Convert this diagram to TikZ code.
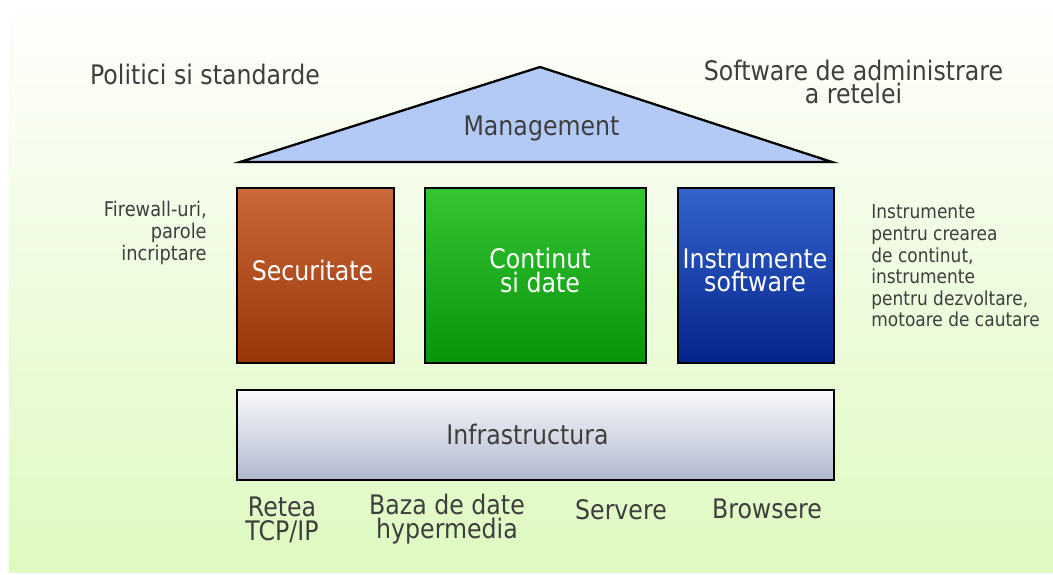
\documentclass[tikz,border=0pt]{standalone}
\usepackage{fontspec}
\setmainfont{DejaVu Sans}[FakeStretch=0.88]
\usepackage{xcolor}
\usepackage{tikz}
\definecolor{bgtop}{RGB}{254,254,252}
\definecolor{bgbot}{RGB}{222,250,192}
\definecolor{roof}{RGB}{180,202,246}
\definecolor{txtgray}{RGB}{62,62,62}
\definecolor{sectop}{RGB}{202,104,58}
\definecolor{secbot}{RGB}{152,54,8}
\definecolor{conttop}{RGB}{52,196,52}
\definecolor{contbot}{RGB}{8,150,8}
\definecolor{insttop}{RGB}{52,100,204}
\definecolor{instbot}{RGB}{4,36,140}
\definecolor{infratop}{RGB}{250,250,252}
\definecolor{infrabot}{RGB}{176,184,206}

\begin{document}
\begin{tikzpicture}[transform shape,scale=1,
	pillar/.style={draw=black,line width=1.1pt,rectangle,inner sep=0pt,minimum height=3.5cm},
	bigtxt/.style={text=txtgray,align=center,inner sep=0pt,font=\fontsize{15.3}{13.4}\selectfont},
	smalltxt/.style={text=txtgray,inner sep=0pt,font=\fontsize{11}{12.3}\selectfont}]
		\useasboundingbox (0,0) rectangle (21.06,11.48);
		\shade[top color=bgtop,bottom color=bgbot] (0.18,0.04) rectangle (21.06,11.2);
		% roof
		\coordinate (roofL) at (4.8,8.24);
		\coordinate (roofT) at (10.8,10.14);
		\coordinate (roofR) at (16.64,8.24);
		\filldraw[fill=roof,draw=black,line width=1.3pt,line join=miter] (roofL) -- (roofT) -- (roofR) -- cycle;
		\node[bigtxt] (mgmt) at (10.83,8.92) {Management};
		\node[bigtxt] (pol) at (4.1,9.99) {Politici si standarde};
		\node[bigtxt] (softadm) at (17.07,9.84) {Software de administrare\\a retelei};
		% pillars
		\node[pillar,minimum width=3.14cm,top color=sectop,bottom color=secbot] (sec) at (6.31,5.97) {};
		\node[pillar,minimum width=4.42cm,top color=conttop,bottom color=contbot] (cont) at (10.71,5.97) {};
		\node[pillar,minimum width=3.12cm,top color=insttop,bottom color=instbot] (instr) at (15.12,5.97) {};
		\node[bigtxt,text=white] (sectxt) at (6.25,6.07) {Securitate};
		\node[bigtxt,text=white] (conttxt) at (10.8,6.07) {Continut\\si date};
		\node[bigtxt,text=white] (instrtxt) at (15.1,6.07) {Instrumente\\software};
		\node[smalltxt,font=\fontsize{11.5}{12.3}\selectfont,align=right,anchor=east] (fw) at (4.14,6.82) {Firewall-uri,\\parole\ \\incriptare};
		\node[smalltxt,align=left,anchor=west] (tools) at (17.42,6.16) {Instrumente\\pentru crearea\\de continut,\\instrumente\\pentru dezvoltare,\\motoare de cautare};
		% base
		\node[pillar,minimum width=11.94cm,minimum height=1.8cm,top color=infratop,bottom color=infrabot] (infra) at (10.71,2.78) {};
		\node[bigtxt] (infratxt) at (10.55,2.79) {Infrastructura};
		\node[bigtxt] (retea) at (5.64,1.08) {Retea\\TCP/IP};
		\node[bigtxt] (baza) at (8.94,1.1) {Baza de date\\hypermedia};
		\node[bigtxt] (serv) at (12.42,1.28) {Servere};
		\node[bigtxt] (brow) at (15.34,1.3) {Browsere};
	\end{tikzpicture}
\end{document}
